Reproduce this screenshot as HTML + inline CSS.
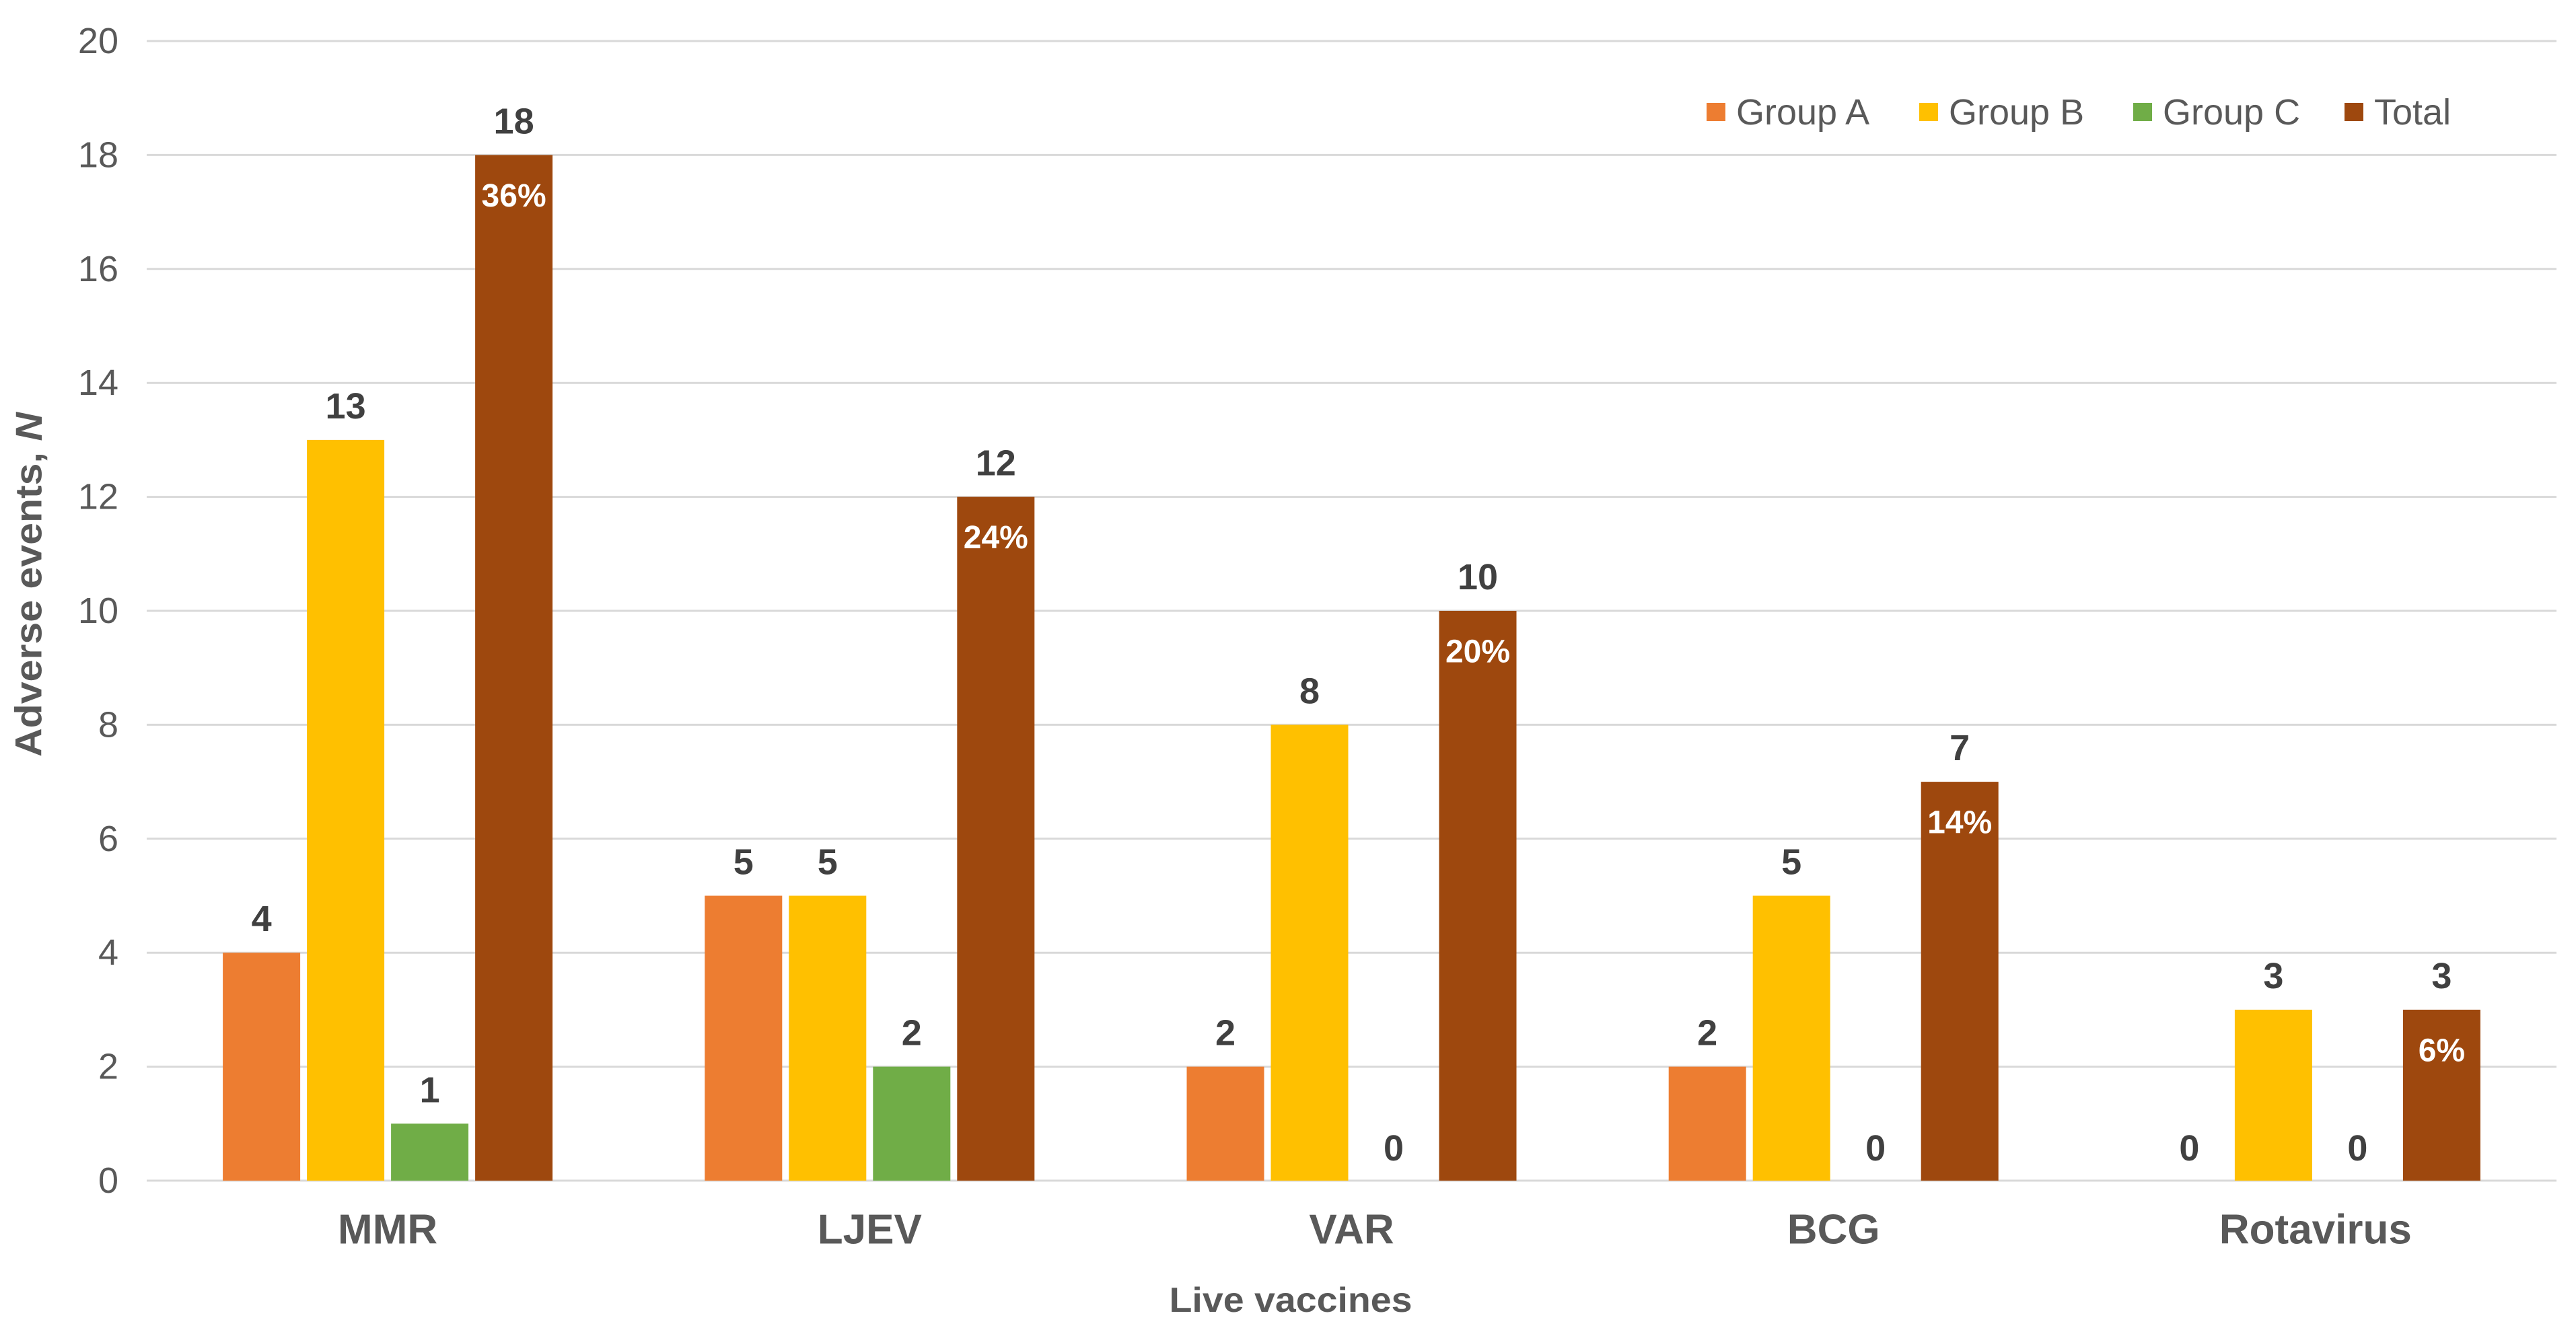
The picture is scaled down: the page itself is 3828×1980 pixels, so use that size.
<!DOCTYPE html>
<html><head><meta charset="utf-8"><style>
html,body{margin:0;padding:0;background:#fff;}
svg{display:block;font-family:"Liberation Sans",Arial,sans-serif;}
</style></head><body>
<svg id="chart" width="3828" height="1980" viewBox="0 0 3828 1980">
<g id="grid"></g>
<g id="yticks"></g>
<g id="bars"></g>
<g id="labels"></g>
<g id="xcats"></g>
<text x="42" y="869" transform="rotate(-90 42 869)" text-anchor="middle" dominant-baseline="central" font-size="56" font-weight="bold" fill="#595959" textLength="512" lengthAdjust="spacingAndGlyphs">Adverse events, <tspan font-style="italic">N</tspan></text>
<text x="1918" y="1950" text-anchor="middle" font-size="52" font-weight="bold" fill="#595959" textLength="361" lengthAdjust="spacingAndGlyphs">Live vaccines</text>
<g id="legend"></g>
</svg>
<script>
const categories = ["MMR","LJEV","VAR","BCG","Rotavirus"];
const seriesNames = ["Group A","Group B","Group C","Total"];
const groupA = [4,5,2,2,0];
const groupB = [13,5,8,5,3];
const groupC = [1,2,0,0,0];
const total = [18,12,10,7,3];
const totalPct = ["36%","24%","20%","14%","6%"];
const yTicks = [0,2,4,6,8,10,12,14,16,18,20];

const colors = ["#ED7D31","#FFC000","#70AD47","#9E480E"];
const series = [groupA, groupB, groupC, total];
const NS = "http://www.w3.org/2000/svg";
const plotL = 218, plotR = 3799, y0 = 1755, yTop = 61, yMax = 20;
const yScale = v => y0 - (v / yMax) * (y0 - yTop);
const catW = (plotR - plotL) / categories.length;
const catCenter = i => plotL + catW * (i + 0.5);
const barW = 115, step = 125;
const barX = (i, s) => catCenter(i) - (step * 4 - 10) / 2 + s * step;

function mk(tag, attrs, parent, text) {
  const e = document.createElementNS(NS, tag);
  for (const k in attrs) e.setAttribute(k, attrs[k]);
  if (text !== undefined) e.textContent = text;
  parent.appendChild(e);
  return e;
}
const grid = document.getElementById('grid');
const yt = document.getElementById('yticks');
yTicks.forEach(t => {
  const l = mk('line', {x1: plotL, x2: plotR, y1: yScale(t), y2: yScale(t), stroke: '#D9D9D9', 'stroke-width': 3}, grid);
  
  
  const tx = mk('text', {x: 176, y: yScale(t), 'text-anchor': 'end', 'dominant-baseline': 'central', 'font-size': 54, fill: '#595959'}, yt, String(t));
  
  
});
const bars = document.getElementById('bars');
const labels = document.getElementById('labels');
categories.forEach((c, i) => {
  series.forEach((arr, s) => {
    const v = arr[i];
    const x = barX(i, s);
    if (v > 0) {
      const r = mk('rect', {x: x, y: yScale(v), width: barW, height: y0 - yScale(v), fill: colors[s]}, bars);
      
      
    }
    const ly = v > 0 ? yScale(v) - 32 : y0 - 30;
    const t = mk('text', {x: x + barW / 2, y: ly, 'text-anchor': 'middle', 'font-size': 54, 'font-weight': 'bold', fill: '#404040'}, labels, String(v));
    
    
  });
  const px = barX(i, 3) + barW / 2;
  const p = mk('text', {x: px, y: yScale(total[i]) + 61, 'text-anchor': 'middle', 'dominant-baseline': 'central', 'font-size': 48, 'font-weight': 'bold', fill: '#FFFFFF'}, labels, totalPct[i]);
  
  
  const ct = mk('text', {x: catCenter(i), y: 1828, 'text-anchor': 'middle', 'dominant-baseline': 'central', 'font-size': 62, 'font-weight': 'bold', fill: '#595959'}, document.getElementById('xcats'), c);
  
  
});
const legend = document.getElementById('legend');
const legX = [2536, 2852, 3170, 3484];
seriesNames.forEach((n, s) => {
  const g = mk('g', {}, legend);
  
  
  mk('rect', {x: legX[s], y: 153, width: 28, height: 27, fill: colors[s]}, g);
  mk('text', {x: legX[s] + 44, y: 167, 'dominant-baseline': 'central', 'font-size': 54, fill: '#595959'}, g, n);
});
</script>
</body></html>
